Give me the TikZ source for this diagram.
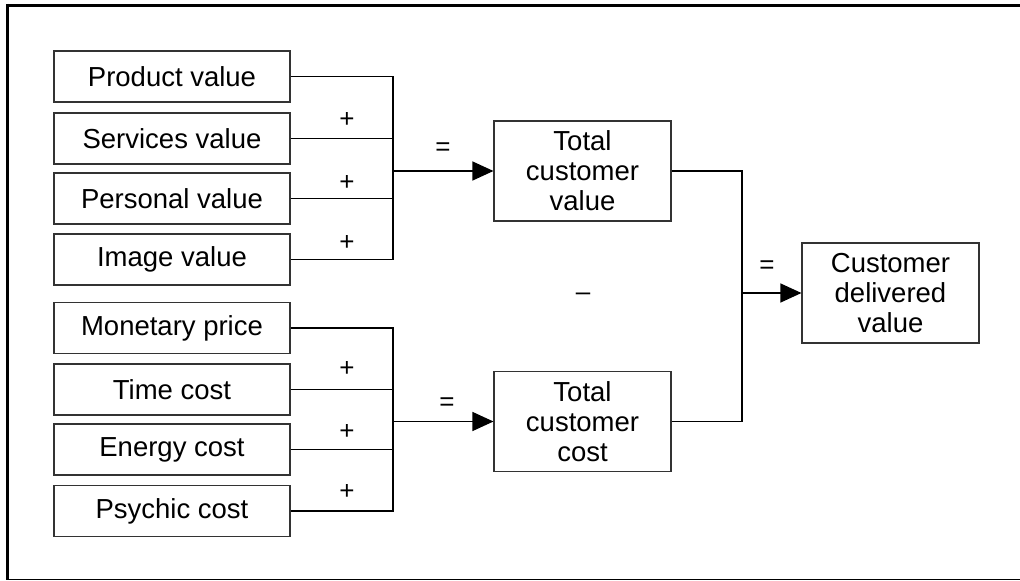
\documentclass[tikz,border=0pt]{standalone}
\usepackage{fontspec}
\setmainfont{Liberation Sans}
\usetikzlibrary{arrows.meta}
\begin{document}
\begin{tikzpicture}[x=1bp,y=-1bp,
  itembox/.style={draw=black!80,line width=1.1bp,minimum width=236bp,minimum height=51bp,inner sep=0pt,font=\fontsize{27.5bp}{30bp}\selectfont},
  bigbox/.style={draw=black!80,line width=1.1bp,minimum width=177bp,minimum height=100bp,inner sep=0pt,align=center,font=\fontsize{27.5bp}{30bp}\selectfont},
  conn/.style={draw=black,line width=1.2bp},
  arr/.style={conn,-{Triangle[length=21bp,width=19bp]}},
  op/.style={inner sep=0pt,font=\fontsize{26bp}{28bp}\selectfont}]
\useasboundingbox (0,0) rectangle (1020,581);
% frame
\draw[line width=3bp] (7,5.5) -- (1021,5.5);
\draw[line width=3bp] (7,4) -- (7,580);
\draw[line width=1.8bp] (6,579.5) -- (1021,579.5);
% value items
\node[itembox] (pv) at (172,76.5) {Product value};
\node[itembox] (sv) at (172,138.5) {Services value};
\node[itembox] (pe) at (172,198.5) {Personal value};
\node[itembox] (iv) at (172,259.5) {Image value};
% cost items
\node[itembox] (mp) at (172,328) {Monetary price};
\node[itembox] (tc) at (172,389.5) {Time cost};
\node[itembox] (ec) at (172,449.5) {Energy cost};
\node[itembox] (pc) at (172,511) {Psychic cost};
% totals
\node[bigbox] (tcv) at (582.5,171) {Total\\customer\\value};
\node[bigbox] (tcc) at (582.5,421.5) {Total\\customer\\cost};
\node[bigbox] (cdv) at (890.5,293) {Customer\\delivered\\value};
% junctions
\coordinate (j1) at (393,171);
\coordinate (j2) at (393,421.5);
\coordinate (j3) at (742,293);
% upper group
\draw[conn] (pv.east) -- (pv.east -| j1) -- (iv.east -| j1) -- (iv.east);
\draw[conn] (sv.east) -- (sv.east -| j1);
\draw[conn] (pe.east) -- (pe.east -| j1);
\draw[arr] (j1 |- tcv.west) -- (tcv.west);
% lower group
\draw[conn] (mp.east) -- (mp.east -| j2) -- (pc.east -| j2) -- (pc.east);
\draw[conn] (tc.east) -- (tc.east -| j2);
\draw[conn] (ec.east) -- (ec.east -| j2);
\draw[arr] (j2 |- tcc.west) -- (tcc.west);
% right
\draw[conn] (tcv.east) -| (j3) |- (tcc.east);
\draw[arr] (j3 |- cdv.west) -- (cdv.west);
% operators
\node[op] (p1) at (347,120) {+};
\node[op] (p2) at (347,183) {+};
\node[op] (p3) at (347,243) {+};
\node[op] (p4) at (347,369) {+};
\node[op] (p5) at (347,432) {+};
\node[op] (p6) at (347,492) {+};
\node[op] (e1) at (443,149) {=};
\node[op] (e2) at (447,404) {=};
\node[op] (e3) at (767,267) {=};
\node[op] (m1) at (583,297) {–};
\end{tikzpicture}
\end{document}
